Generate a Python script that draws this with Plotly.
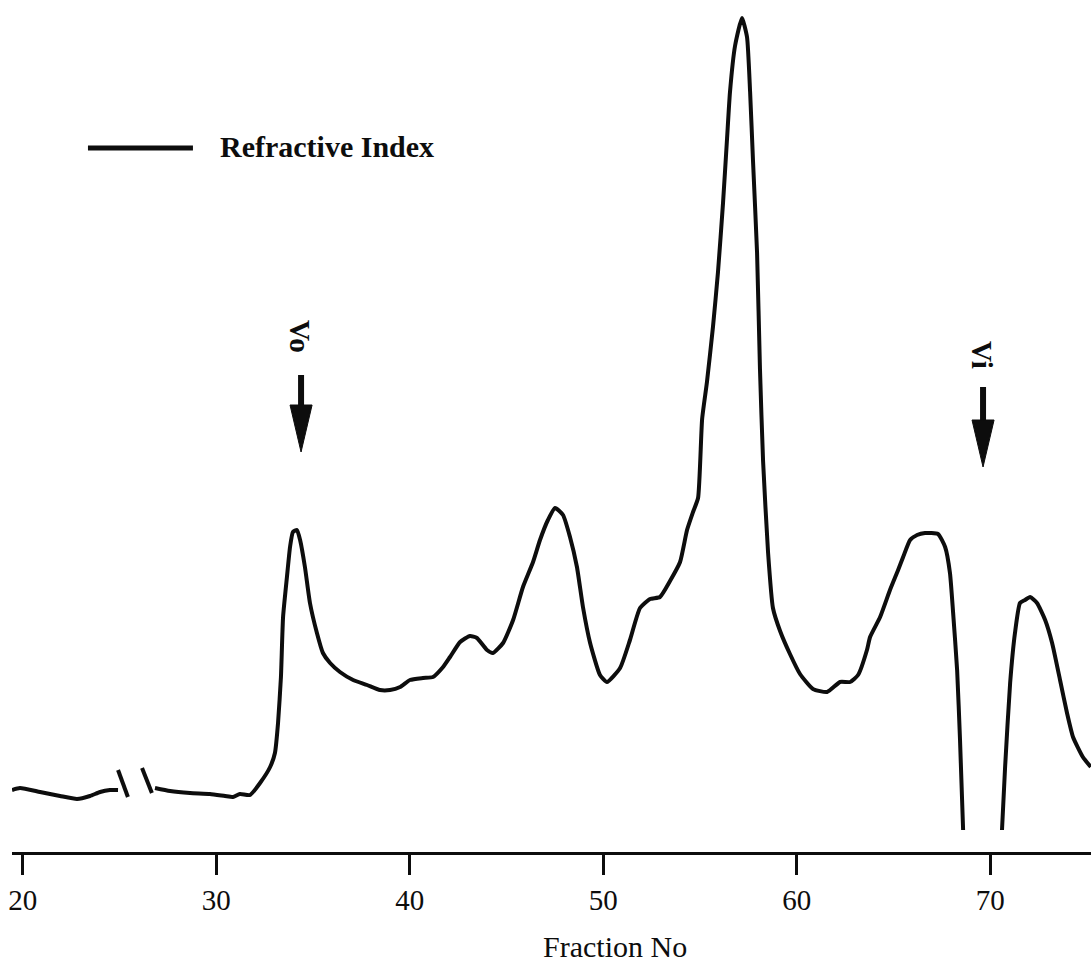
import plotly.graph_objects as go

# Refractive-index elution profile (fraction number vs detector response, arbitrary units)
fraction_pre_break = [19.44, 19.85, 20.89, 21.92, 22.80, 23.47, 23.99, 24.50, 24.92]
signal_pre_break = [6.2, 6.4, 6.0, 5.6, 5.3, 5.6, 6.0, 6.2, 6.2]

fraction_main = [
    26.83, 27.61, 28.64, 29.67, 30.45, 30.86, 31.22, 31.74, 32.26, 32.78,
    33.03, 33.19, 33.34, 33.45, 33.65, 33.81, 33.96, 34.17, 34.33, 34.58,
    34.84, 35.20, 35.51, 35.88, 36.39, 37.07, 37.79, 38.46, 38.98, 39.50,
    40.01, 40.68, 41.20, 41.72, 42.08, 42.60, 43.11, 43.47, 43.99, 44.30,
    44.82, 45.34, 45.85, 46.37, 46.73, 47.14, 47.51, 47.92, 48.28, 48.64,
    48.95, 49.32, 49.83, 50.19, 50.87, 51.38, 51.90, 52.42, 52.93, 53.45,
    53.97, 54.33, 54.64, 54.90, 55.11, 55.36, 55.67, 55.93, 56.19, 56.40,
    56.55, 56.81, 57.17, 57.43, 57.59, 57.74, 57.95, 58.10, 58.26, 58.52,
    58.77, 59.14, 59.65, 60.17, 60.84, 61.57, 62.24, 62.76, 63.17, 63.63,
    63.79, 64.31, 64.82, 65.24, 65.50, 65.86, 66.22, 66.63, 67.30, 67.67,
    67.92, 68.08, 68.29, 68.44, 68.60,
]
signal_main = [
    6.4, 6.1, 5.9, 5.8, 5.6, 5.5, 5.8, 5.7, 6.9, 8.5,
    9.9, 12.9, 17.5, 23.5, 27.5, 30.5, 32.0, 32.2, 31.2, 28.5,
    24.9, 21.9, 19.9, 18.9, 18.0, 17.2, 16.7, 16.2, 16.2, 16.5,
    17.2, 17.4, 17.5, 18.5, 19.5, 21.0, 21.6, 21.4, 20.2, 19.9,
    20.9, 23.2, 26.5, 29.0, 31.2, 33.2, 34.4, 33.7, 31.5, 28.5,
    24.5, 20.9, 17.7, 17.0, 18.4, 21.2, 24.4, 25.3, 25.5, 27.1,
    29.0, 32.2, 34.0, 35.4, 43.3, 47.0, 52.5, 58.0, 64.9, 71.4,
    76.0, 80.6, 83.4, 81.5, 76.0, 69.1, 59.9, 48.3, 39.1, 29.9,
    24.4, 22.1, 19.8, 17.8, 16.3, 16.0, 17.0, 17.0, 17.7, 20.2,
    21.5, 23.5, 26.2, 28.2, 29.5, 31.2, 31.7, 31.9, 31.8, 30.5,
    27.9, 24.0, 18.2, 11.2, 2.2,
]

fraction_post = [70.61, 70.77, 71.03, 71.28, 71.54, 71.80, 72.06, 72.42, 72.84,
                 73.20, 73.61, 73.97, 74.28, 74.79, 75.20]
signal_post = [2.2, 8.5, 16.9, 21.9, 24.9, 25.2, 25.5, 24.9, 23.2,
               20.9, 17.2, 13.9, 11.5, 9.5, 8.5]

# Axis-break strokes drawn across the baseline
break_strokes = [
    ([24.92, 25.43], [8.2, 5.5]),
    ([26.16, 26.67], [8.4, 5.9]),
]

# Void (Vo) and inclusion (Vi) volume markers
marker_labels = ["Vo", "Vi"]
marker_fraction = [34.38, 69.63]
marker_label_fraction = [34.33, 69.58]
marker_label_signal = [51.6, 49.7]
marker_shaft_top = [47.7, 46.5]
marker_head_base = [44.7, 43.2]
marker_tip = [40.0, 38.5]

tick_values = [20, 30, 40, 50, 60, 70]
tick_labels = ["20", "30", "40", "50", "60", "70"]

INK = "#0d0d0d"
SERIF = "Liberation Serif, Times New Roman, serif"

fig = go.Figure()
for xs, ys in [(fraction_pre_break, signal_pre_break),
               (fraction_main, signal_main),
               (fraction_post, signal_post)]:
    fig.add_trace(go.Scatter(
        x=xs, y=ys, mode="lines", name="Refractive Index",
        line=dict(color=INK, width=4, shape="spline", smoothing=0.5),
        showlegend=False, hoverinfo="skip",
    ))
for bx, by in break_strokes:
    fig.add_trace(go.Scatter(x=bx, y=by, mode="lines", showlegend=False,
                             line=dict(color=INK, width=4), hoverinfo="skip"))

shapes = []
annotations = []
head_half = 0.57
for lab, xf, lx, ly, top, base, tip in zip(marker_labels, marker_fraction,
                                            marker_label_fraction, marker_label_signal,
                                            marker_shaft_top, marker_head_base, marker_tip):
    shapes.append(dict(type="line", xref="x", yref="y", x0=xf, x1=xf, y0=top, y1=base - 0.5,
                       line=dict(color=INK, width=6)))
    shapes.append(dict(type="path", xref="x", yref="y",
                       path=f"M {xf - head_half} {base} L {xf + head_half} {base} L {xf} {tip} Z",
                       fillcolor=INK, line=dict(color=INK, width=1)))
    annotations.append(dict(x=lx, y=ly, xref="x", yref="y", text=f"<b>{lab}</b>",
                            showarrow=False, textangle=90,
                            font=dict(family=SERIF, size=29, color=INK)))

# Legend key
shapes.append(dict(type="line", xref="paper", yref="paper", x0=0.0704, x1=0.1677,
                   y0=0.8263, y1=0.8263, line=dict(color=INK, width=5)))
annotations.append(dict(x=0.1909, y=0.8286, xref="paper", yref="paper",
                        text="<b>Refractive Index</b>", showarrow=False,
                        xanchor="left", yanchor="middle",
                        font=dict(family=SERIF, size=30, color=INK)))

# Axis title
annotations.append(dict(x=50.6, y=-0.111, xref="x", yref="paper", text="Fraction No",
                        showarrow=False, xanchor="center", yanchor="middle",
                        font=dict(family=SERIF, size=30, color=INK)))

fig.update_layout(
    width=1091, height=966,
    margin=dict(l=12, r=0, t=0, b=114),
    paper_bgcolor="white", plot_bgcolor="white",
    shapes=shapes, annotations=annotations,
    xaxis=dict(range=[19.439, 75.21], showgrid=False, zeroline=False,
               showline=True, linecolor=INK, linewidth=2.5,
               ticks="outside", ticklen=20, tickwidth=2.5, tickcolor=INK,
               tickvals=tick_values, ticktext=tick_labels,
               tickfont=dict(family=SERIF, size=29, color=INK)),
    yaxis=dict(range=[0, 85.2], visible=False, showgrid=False, zeroline=False),
    showlegend=False,
)

fig.write_html("out.html")
